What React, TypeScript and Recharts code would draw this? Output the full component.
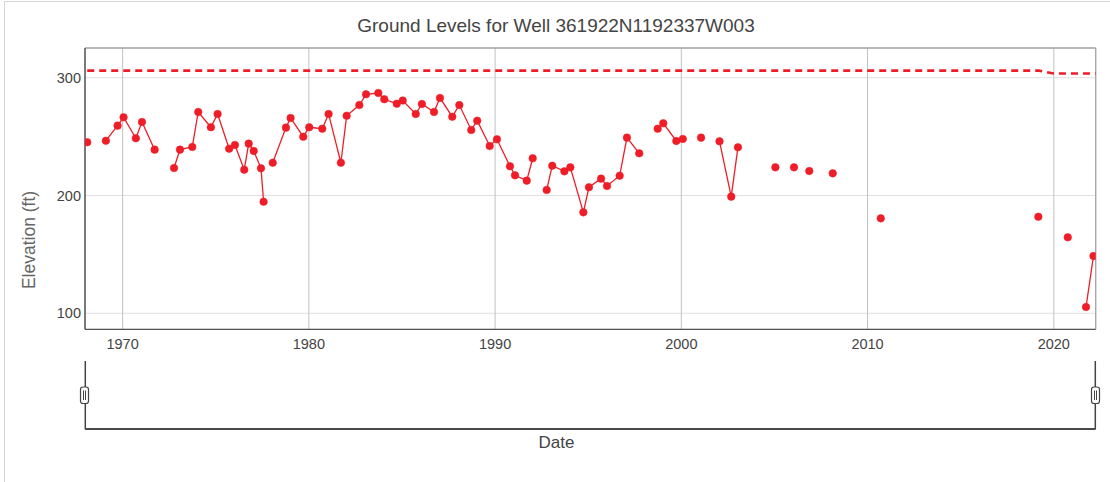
import React from "react";
import {
  ComposedChart,
  Line,
  XAxis,
  YAxis,
  CartesianGrid,
  ReferenceLine,
} from "recharts";

// Measurement dates (decimal years); null elevations mark breaks in the line
const sampleDates = [
  1968.1, 1968.6, 1969.1, 1969.73, 1970.05, 1970.71, 1971.04, 1971.72, 1972.2,
  1972.76, 1973.08, 1973.74, 1974.06, 1974.74, 1975.1, 1975.72, 1976.03, 1976.53,
  1976.77, 1977.04, 1977.43, 1977.57, 1977.8,
  1978.06, 1978.77, 1979.02, 1979.7, 1980.02, 1980.72, 1981.06, 1981.72, 1982.03,
  1982.71, 1983.07, 1983.73, 1984.05, 1984.72, 1985.04, 1985.74, 1986.07, 1986.72,
  1987.04, 1987.7, 1988.08, 1988.72, 1989.04, 1989.71, 1990.1, 1990.8, 1991.07,
  1991.7, 1992.02, 1992.4,
  1992.77, 1993.07, 1993.72, 1994.04, 1994.74, 1995.04, 1995.69, 1996.01, 1996.69,
  1997.08, 1997.74, 1998.2,
  1998.73, 1999.03, 1999.73, 2000.08, 2000.6,
  2001.06, 2001.5,
  2002.05, 2002.68, 2003.04, 2004.0,
  2005.05, 2005.5,
  2006.05, 2006.5,
  2006.87, 2007.5,
  2008.13, 2009.5,
  2010.71, 2015.0,
  2019.17, 2020.0,
  2020.75, 2021.2,
  2021.73, 2022.13,
];

const elevations: (number | null)[] = [
  245.2, null, 246.5, 259.3, 266.4, 248.6, 262.4, 238.9, null,
  223.3, 238.9, 241.2, 270.9, 257.9, 269.2, 239.7, 242.9, 221.9,
  244.0, 237.8, 223.1, 194.7, null,
  227.8, 257.6, 265.8, 249.9, 257.9, 256.7, 269.2, 227.8, 267.7,
  276.8, 285.9, 287.0, 281.7, 277.9, 280.6, 269.2, 277.7, 270.9,
  282.8, 266.9, 276.8, 255.6, 263.5, 242.0, 247.7, 224.8, 217.1,
  212.6, 231.6, null,
  204.7, 225.3, 220.5, 223.9, 185.7, 207.0, 214.3, 208.1, 216.8,
  249.1, 235.8, null,
  256.7, 261.3, 246.3, 248.0, null,
  249.1, null,
  246.0, 199.0, 240.9, null,
  223.9, null,
  223.9, null,
  220.8, null,
  218.8, null,
  180.6, null,
  182.0, null,
  164.5, null,
  105.3, 148.6,
];

// Ground surface elevation (dashed reference)
const groundDates = [1968.1, 2019.2, 2020.0, 2022.25];
const groundLevels = [306, 306, 303.5, 303.5];

const xTicks = [1970, 1980, 1990, 2000, 2010, 2020];
const yTicks = [100, 200, 300];

const X_MIN = 1967.98;
const X_MAX = 2022.25;
const Y_MIN = 86.4;
const Y_MAX = 325.2;

const levelData = sampleDates.map((t, i) => ({ t, v: elevations[i] }));
const groundData = groundDates.map((t, i) => ({ t, g: groundLevels[i] }));

const RED = "#ee1d27";
const FONT = "'Liberation Sans', Arial, sans-serif";

export default function App() {
  return (
    <div
      style={{
        position: "absolute",
        left: 0,
        top: 0,
        width: 1110,
        height: 482,
        background: "#fff",
        fontFamily: FONT,
      }}
    >
      <ComposedChart
        width={1110}
        height={482}
        margin={{ top: 48, right: 14.3, bottom: 122.7, left: 0 }}
      >
        <CartesianGrid vertical={false} stroke="#e0e0e0" strokeWidth={1} />
        <CartesianGrid horizontal={false} stroke="#c2c2c2" strokeWidth={1} />
        <XAxis
          dataKey="t"
          type="number"
          domain={[X_MIN, X_MAX]}
          ticks={xTicks}
          allowDataOverflow
          height={30}
          tickLine={false}
          tickSize={6}
          tickMargin={3}
          axisLine={{ stroke: "#555", strokeWidth: 1.3 }}
          tick={{ fontSize: 14.5, fill: "#444", fontFamily: FONT }}
        />
        <YAxis
          type="number"
          domain={[Y_MIN, Y_MAX]}
          ticks={yTicks}
          allowDataOverflow
          width={85}
          tickLine={false}
          tickSize={2}
          tickMargin={2}
          axisLine={{ stroke: "#444", strokeWidth: 1.3 }}
          tick={{ fontSize: 14.5, fill: "#444", fontFamily: FONT }}
        />
        <ReferenceLine y={Y_MAX} stroke="#a6a6a6" strokeWidth={1.3} />
        <ReferenceLine x={X_MAX} stroke="#a6a6a6" strokeWidth={1.3} />
        <Line
          data={groundData}
          dataKey="g"
          type="linear"
          stroke={RED}
          strokeWidth={2.6}
          strokeDasharray="7 5"
          dot={false}
          activeDot={false}
          isAnimationActive={false}
        />
        <Line
          data={levelData}
          dataKey="v"
          type="linear"
          stroke={RED}
          strokeWidth={1.3}
          connectNulls={false}
          dot={{ r: 3.8, fill: RED, stroke: RED, strokeWidth: 0.5 }}
          activeDot={false}
          isAnimationActive={false}
        />
      </ComposedChart>
      <svg
        width={1110}
        height={482}
        style={{ position: "absolute", left: 0, top: 0, pointerEvents: "none" }}
      >
        {/* card border */}
        <line x1={4.5} y1={1.5} x2={1110} y2={1.5} stroke="#d4d4d4" strokeWidth={1} />
        <line x1={4.5} y1={1.5} x2={4.5} y2={482} stroke="#d4d4d4" strokeWidth={1} />
        {/* title */}
        <text
          x={556}
          y={31.5}
          textAnchor="middle"
          fontSize={19}
          fill="#444"
          fontFamily={FONT}
        >
          Ground Levels for Well 361922N1192337W003
        </text>
        {/* y axis title */}
        <text
          transform="translate(34.5,240) rotate(-90)"
          textAnchor="middle"
          fontSize={17.5}
          fill="#666"
          fontFamily={FONT}
        >
          Elevation (ft)
        </text>
        {/* range slider */}
        <line x1={85.3} y1={361} x2={85.3} y2={429.5} stroke="#444" strokeWidth={1.5} />
        <line x1={1095.3} y1={361} x2={1095.3} y2={429.5} stroke="#444" strokeWidth={1.5} />
        <line x1={85.3} y1={429} x2={1095.3} y2={429} stroke="#4a4a4a" strokeWidth={2} />
        <rect x={80.5} y={387} width={8} height={16.5} rx={2.5} fill="#fff" stroke="#444" strokeWidth={1.2} />
        <line x1={83.5} y1={390.5} x2={83.5} y2={400} stroke="#444" strokeWidth={1} />
        <line x1={85.5} y1={390.5} x2={85.5} y2={400} stroke="#444" strokeWidth={1} />
        <rect x={1091.5} y={387} width={8} height={16.5} rx={2.5} fill="#fff" stroke="#444" strokeWidth={1.2} />
        <line x1={1094.5} y1={390.5} x2={1094.5} y2={400} stroke="#444" strokeWidth={1} />
        <line x1={1096.5} y1={390.5} x2={1096.5} y2={400} stroke="#444" strokeWidth={1} />
        {/* x axis title */}
        <text
          x={556.5}
          y={448}
          textAnchor="middle"
          fontSize={17}
          fill="#444"
          fontFamily={FONT}
        >
          Date
        </text>
      </svg>
    </div>
  );
}
